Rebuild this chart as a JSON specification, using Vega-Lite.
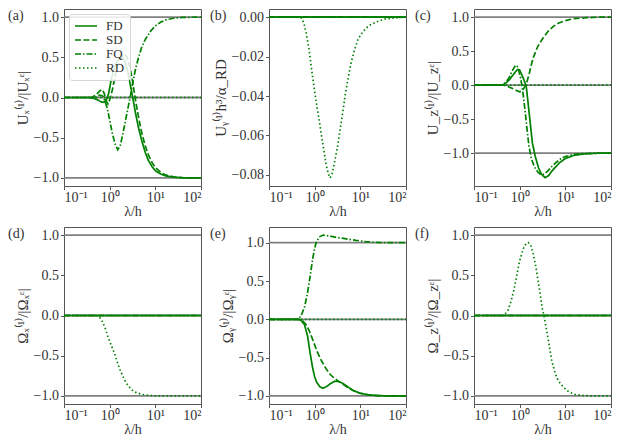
{
  "$schema": "https://vega.github.io/schema/vega-lite/v6.json",
  "padding": {"left": 7, "top": 8, "right": 0, "bottom": 0},
  "background": "white",
  "bounds": "flush",
  "columns": 3,
  "spacing": {"row": 41, "column": 68},
  "resolve": {"scale": {"strokeDash": "independent"}, "legend": {"strokeDash": "independent"}},
  "datasets": {
    "refs": [
      {"p": "a", "y": 1}, {"p": "a", "y": 0}, {"p": "a", "y": -1},
      {"p": "b", "y": 0},
      {"p": "c", "y": 1}, {"p": "c", "y": 0}, {"p": "c", "y": -1},
      {"p": "d", "y": 1}, {"p": "d", "y": 0}, {"p": "d", "y": -1},
      {"p": "e", "y": 1}, {"p": "e", "y": 0}, {"p": "e", "y": -1},
      {"p": "f", "y": 1}, {"p": "f", "y": 0}, {"p": "f", "y": -1}
    ],
    "curves": [
      {"p":"a","s":"FD","x":0.1,"y":0},{"p":"a","s":"FD","x":0.35,"y":0},{"p":"a","s":"FD","x":0.45,"y":-0.01},{"p":"a","s":"FD","x":0.55,"y":-0.03},{"p":"a","s":"FD","x":0.65,"y":-0.055},{"p":"a","s":"FD","x":0.75,"y":-0.06},{"p":"a","s":"FD","x":0.85,"y":-0.03},{"p":"a","s":"FD","x":0.95,"y":0.05},{"p":"a","s":"FD","x":1.08,"y":0.22},{"p":"a","s":"FD","x":1.25,"y":0.36},{"p":"a","s":"FD","x":1.45,"y":0.45},{"p":"a","s":"FD","x":1.7,"y":0.5},{"p":"a","s":"FD","x":1.9,"y":0.5},{"p":"a","s":"FD","x":2.2,"y":0.44},{"p":"a","s":"FD","x":2.5,"y":0.32},{"p":"a","s":"FD","x":2.8,"y":0.17},{"p":"a","s":"FD","x":3.2,"y":0},{"p":"a","s":"FD","x":3.7,"y":-0.2},{"p":"a","s":"FD","x":4.3,"y":-0.38},{"p":"a","s":"FD","x":5,"y":-0.53},{"p":"a","s":"FD","x":6,"y":-0.68},{"p":"a","s":"FD","x":7,"y":-0.78},{"p":"a","s":"FD","x":8.5,"y":-0.86},{"p":"a","s":"FD","x":10,"y":-0.91},{"p":"a","s":"FD","x":13,"y":-0.95},{"p":"a","s":"FD","x":17,"y":-0.975},{"p":"a","s":"FD","x":25,"y":-0.99},{"p":"a","s":"FD","x":40,"y":-0.998},{"p":"a","s":"FD","x":100,"y":-1},
      {"p":"a","s":"SD","x":0.1,"y":0},{"p":"a","s":"SD","x":0.4,"y":0},{"p":"a","s":"SD","x":0.5,"y":0.03},{"p":"a","s":"SD","x":0.6,"y":0.08},{"p":"a","s":"SD","x":0.68,"y":0.1},{"p":"a","s":"SD","x":0.75,"y":0.06},{"p":"a","s":"SD","x":0.85,"y":-0.05},{"p":"a","s":"SD","x":0.92,"y":-0.08},{"p":"a","s":"SD","x":1.0,"y":-0.03},{"p":"a","s":"SD","x":1.15,"y":0.1},{"p":"a","s":"SD","x":1.3,"y":0.25},{"p":"a","s":"SD","x":1.5,"y":0.39},{"p":"a","s":"SD","x":1.8,"y":0.5},{"p":"a","s":"SD","x":2.1,"y":0.54},{"p":"a","s":"SD","x":2.4,"y":0.5},{"p":"a","s":"SD","x":2.8,"y":0.37},{"p":"a","s":"SD","x":3.2,"y":0.19},{"p":"a","s":"SD","x":3.6,"y":0},{"p":"a","s":"SD","x":4.2,"y":-0.22},{"p":"a","s":"SD","x":5,"y":-0.43},{"p":"a","s":"SD","x":6,"y":-0.6},{"p":"a","s":"SD","x":7,"y":-0.71},{"p":"a","s":"SD","x":8.5,"y":-0.81},{"p":"a","s":"SD","x":10,"y":-0.87},{"p":"a","s":"SD","x":13,"y":-0.93},{"p":"a","s":"SD","x":17,"y":-0.965},{"p":"a","s":"SD","x":25,"y":-0.985},{"p":"a","s":"SD","x":40,"y":-0.997},{"p":"a","s":"SD","x":100,"y":-1},
      {"p":"a","s":"FQ","x":0.1,"y":0},{"p":"a","s":"FQ","x":0.4,"y":0},{"p":"a","s":"FQ","x":0.5,"y":0.01},{"p":"a","s":"FQ","x":0.6,"y":0.03},{"p":"a","s":"FQ","x":0.7,"y":0.02},{"p":"a","s":"FQ","x":0.8,"y":-0.05},{"p":"a","s":"FQ","x":0.9,"y":-0.15},{"p":"a","s":"FQ","x":1.0,"y":-0.28},{"p":"a","s":"FQ","x":1.15,"y":-0.45},{"p":"a","s":"FQ","x":1.3,"y":-0.57},{"p":"a","s":"FQ","x":1.5,"y":-0.65},{"p":"a","s":"FQ","x":1.7,"y":-0.6},{"p":"a","s":"FQ","x":1.9,"y":-0.48},{"p":"a","s":"FQ","x":2.2,"y":-0.3},{"p":"a","s":"FQ","x":2.5,"y":-0.14},{"p":"a","s":"FQ","x":2.8,"y":0},{"p":"a","s":"FQ","x":3.2,"y":0.18},{"p":"a","s":"FQ","x":3.7,"y":0.36},{"p":"a","s":"FQ","x":4.3,"y":0.5},{"p":"a","s":"FQ","x":5,"y":0.62},{"p":"a","s":"FQ","x":6,"y":0.72},{"p":"a","s":"FQ","x":8,"y":0.83},{"p":"a","s":"FQ","x":10,"y":0.89},{"p":"a","s":"FQ","x":13,"y":0.935},{"p":"a","s":"FQ","x":17,"y":0.965},{"p":"a","s":"FQ","x":25,"y":0.985},{"p":"a","s":"FQ","x":40,"y":0.995},{"p":"a","s":"FQ","x":100,"y":1},
      {"p":"a","s":"RD","x":0.1,"y":0},{"p":"a","s":"RD","x":100,"y":0},
      {"p":"b","s":"FD","x":0.1,"y":0},{"p":"b","s":"FD","x":100,"y":0},
      {"p":"b","s":"SD","x":0.1,"y":0},{"p":"b","s":"SD","x":100,"y":0},
      {"p":"b","s":"FQ","x":0.1,"y":0},{"p":"b","s":"FQ","x":100,"y":0},
      {"p":"b","s":"RD","x":0.1,"y":0},{"p":"b","s":"RD","x":0.5,"y":0},{"p":"b","s":"RD","x":0.58,"y":-0.003},{"p":"b","s":"RD","x":0.65,"y":-0.008},{"p":"b","s":"RD","x":0.75,"y":-0.016},{"p":"b","s":"RD","x":0.84,"y":-0.025},{"p":"b","s":"RD","x":0.95,"y":-0.034},{"p":"b","s":"RD","x":1.08,"y":-0.043},{"p":"b","s":"RD","x":1.25,"y":-0.052},{"p":"b","s":"RD","x":1.39,"y":-0.059},{"p":"b","s":"RD","x":1.6,"y":-0.068},{"p":"b","s":"RD","x":1.79,"y":-0.075},{"p":"b","s":"RD","x":2.0,"y":-0.0795},{"p":"b","s":"RD","x":2.18,"y":-0.0815},{"p":"b","s":"RD","x":2.4,"y":-0.0795},{"p":"b","s":"RD","x":2.7,"y":-0.074},{"p":"b","s":"RD","x":3.2,"y":-0.065},{"p":"b","s":"RD","x":3.6,"y":-0.057},{"p":"b","s":"RD","x":4.14,"y":-0.048},{"p":"b","s":"RD","x":4.7,"y":-0.039},{"p":"b","s":"RD","x":5.3,"y":-0.032},{"p":"b","s":"RD","x":6.3,"y":-0.023},{"p":"b","s":"RD","x":7.4,"y":-0.0168},{"p":"b","s":"RD","x":9,"y":-0.011},{"p":"b","s":"RD","x":11.3,"y":-0.0075},{"p":"b","s":"RD","x":15,"y":-0.0045},{"p":"b","s":"RD","x":22,"y":-0.0025},{"p":"b","s":"RD","x":35,"y":-0.001},{"p":"b","s":"RD","x":60,"y":-0.0003},{"p":"b","s":"RD","x":100,"y":0},
      {"p":"c","s":"FD","x":0.1,"y":0},{"p":"c","s":"FD","x":0.42,"y":0},{"p":"c","s":"FD","x":0.5,"y":0.03},{"p":"c","s":"FD","x":0.6,"y":0.08},{"p":"c","s":"FD","x":0.7,"y":0.14},{"p":"c","s":"FD","x":0.8,"y":0.19},{"p":"c","s":"FD","x":0.9,"y":0.23},{"p":"c","s":"FD","x":1.0,"y":0.22},{"p":"c","s":"FD","x":1.1,"y":0.16},{"p":"c","s":"FD","x":1.2,"y":0.1},{"p":"c","s":"FD","x":1.3,"y":0.04},{"p":"c","s":"FD","x":1.4,"y":-0.03},{"p":"c","s":"FD","x":1.55,"y":-0.3},{"p":"c","s":"FD","x":1.7,"y":-0.55},{"p":"c","s":"FD","x":1.9,"y":-0.85},{"p":"c","s":"FD","x":2.2,"y":-1.05},{"p":"c","s":"FD","x":2.6,"y":-1.22},{"p":"c","s":"FD","x":3.0,"y":-1.31},{"p":"c","s":"FD","x":3.6,"y":-1.36},{"p":"c","s":"FD","x":4.3,"y":-1.33},{"p":"c","s":"FD","x":5,"y":-1.27},{"p":"c","s":"FD","x":6,"y":-1.21},{"p":"c","s":"FD","x":7.5,"y":-1.14},{"p":"c","s":"FD","x":10,"y":-1.08},{"p":"c","s":"FD","x":15,"y":-1.035},{"p":"c","s":"FD","x":25,"y":-1.012},{"p":"c","s":"FD","x":50,"y":-1.002},{"p":"c","s":"FD","x":100,"y":-1},
      {"p":"c","s":"SD","x":0.1,"y":0},{"p":"c","s":"SD","x":0.45,"y":0},{"p":"c","s":"SD","x":0.55,"y":-0.02},{"p":"c","s":"SD","x":0.7,"y":-0.05},{"p":"c","s":"SD","x":0.85,"y":-0.08},{"p":"c","s":"SD","x":1.0,"y":-0.1},{"p":"c","s":"SD","x":1.1,"y":-0.09},{"p":"c","s":"SD","x":1.2,"y":-0.06},{"p":"c","s":"SD","x":1.3,"y":-0.02},{"p":"c","s":"SD","x":1.4,"y":0.02},{"p":"c","s":"SD","x":1.6,"y":0.15},{"p":"c","s":"SD","x":1.8,"y":0.3},{"p":"c","s":"SD","x":2.0,"y":0.41},{"p":"c","s":"SD","x":2.5,"y":0.57},{"p":"c","s":"SD","x":3.3,"y":0.7},{"p":"c","s":"SD","x":4.2,"y":0.79},{"p":"c","s":"SD","x":5.4,"y":0.86},{"p":"c","s":"SD","x":7,"y":0.91},{"p":"c","s":"SD","x":10.5,"y":0.95},{"p":"c","s":"SD","x":15,"y":0.975},{"p":"c","s":"SD","x":29,"y":0.99},{"p":"c","s":"SD","x":50,"y":0.997},{"p":"c","s":"SD","x":100,"y":1},
      {"p":"c","s":"FQ","x":0.1,"y":0},{"p":"c","s":"FQ","x":0.42,"y":0},{"p":"c","s":"FQ","x":0.5,"y":0.04},{"p":"c","s":"FQ","x":0.6,"y":0.12},{"p":"c","s":"FQ","x":0.7,"y":0.22},{"p":"c","s":"FQ","x":0.8,"y":0.28},{"p":"c","s":"FQ","x":0.87,"y":0.29},{"p":"c","s":"FQ","x":0.95,"y":0.22},{"p":"c","s":"FQ","x":1.05,"y":0.1},{"p":"c","s":"FQ","x":1.15,"y":-0.05},{"p":"c","s":"FQ","x":1.3,"y":-0.35},{"p":"c","s":"FQ","x":1.45,"y":-0.65},{"p":"c","s":"FQ","x":1.6,"y":-0.9},{"p":"c","s":"FQ","x":1.8,"y":-1.08},{"p":"c","s":"FQ","x":2.1,"y":-1.2},{"p":"c","s":"FQ","x":2.5,"y":-1.28},{"p":"c","s":"FQ","x":3.0,"y":-1.32},{"p":"c","s":"FQ","x":3.6,"y":-1.3},{"p":"c","s":"FQ","x":4.3,"y":-1.25},{"p":"c","s":"FQ","x":5,"y":-1.2},{"p":"c","s":"FQ","x":6.5,"y":-1.13},{"p":"c","s":"FQ","x":8,"y":-1.08},{"p":"c","s":"FQ","x":10,"y":-1.05},{"p":"c","s":"FQ","x":15,"y":-1.02},{"p":"c","s":"FQ","x":25,"y":-1.006},{"p":"c","s":"FQ","x":50,"y":-1},{"p":"c","s":"FQ","x":100,"y":-1},
      {"p":"c","s":"RD","x":0.1,"y":0},{"p":"c","s":"RD","x":100,"y":0},
      {"p":"d","s":"FD","x":0.1,"y":0},{"p":"d","s":"FD","x":100,"y":0},
      {"p":"d","s":"SD","x":0.1,"y":0},{"p":"d","s":"SD","x":100,"y":0},
      {"p":"d","s":"FQ","x":0.1,"y":0},{"p":"d","s":"FQ","x":100,"y":0},
      {"p":"d","s":"RD","x":0.1,"y":0},{"p":"d","s":"RD","x":0.5,"y":0},{"p":"d","s":"RD","x":0.6,"y":-0.02},{"p":"d","s":"RD","x":0.7,"y":-0.08},{"p":"d","s":"RD","x":0.8,"y":-0.16},{"p":"d","s":"RD","x":0.9,"y":-0.25},{"p":"d","s":"RD","x":1.0,"y":-0.32},{"p":"d","s":"RD","x":1.27,"y":-0.47},{"p":"d","s":"RD","x":1.64,"y":-0.66},{"p":"d","s":"RD","x":2.0,"y":-0.77},{"p":"d","s":"RD","x":2.3,"y":-0.84},{"p":"d","s":"RD","x":3.0,"y":-0.92},{"p":"d","s":"RD","x":3.5,"y":-0.95},{"p":"d","s":"RD","x":5,"y":-0.98},{"p":"d","s":"RD","x":7,"y":-0.993},{"p":"d","s":"RD","x":10,"y":-0.998},{"p":"d","s":"RD","x":100,"y":-1},
      {"p":"e","s":"FD","x":0.1,"y":0},{"p":"e","s":"FD","x":0.42,"y":0},{"p":"e","s":"FD","x":0.5,"y":-0.01},{"p":"e","s":"FD","x":0.6,"y":-0.07},{"p":"e","s":"FD","x":0.7,"y":-0.22},{"p":"e","s":"FD","x":0.8,"y":-0.45},{"p":"e","s":"FD","x":0.9,"y":-0.63},{"p":"e","s":"FD","x":1.0,"y":-0.75},{"p":"e","s":"FD","x":1.1,"y":-0.82},{"p":"e","s":"FD","x":1.3,"y":-0.88},{"p":"e","s":"FD","x":1.5,"y":-0.9},{"p":"e","s":"FD","x":1.8,"y":-0.88},{"p":"e","s":"FD","x":2.2,"y":-0.84},{"p":"e","s":"FD","x":2.7,"y":-0.81},{"p":"e","s":"FD","x":3.2,"y":-0.81},{"p":"e","s":"FD","x":4,"y":-0.83},{"p":"e","s":"FD","x":5,"y":-0.87},{"p":"e","s":"FD","x":7,"y":-0.93},{"p":"e","s":"FD","x":10,"y":-0.965},{"p":"e","s":"FD","x":15,"y":-0.985},{"p":"e","s":"FD","x":25,"y":-0.996},{"p":"e","s":"FD","x":50,"y":-1},{"p":"e","s":"FD","x":100,"y":-1},
      {"p":"e","s":"SD","x":0.1,"y":0},{"p":"e","s":"SD","x":0.45,"y":0},{"p":"e","s":"SD","x":0.55,"y":-0.02},{"p":"e","s":"SD","x":0.65,"y":-0.07},{"p":"e","s":"SD","x":0.75,"y":-0.14},{"p":"e","s":"SD","x":0.9,"y":-0.26},{"p":"e","s":"SD","x":1.1,"y":-0.4},{"p":"e","s":"SD","x":1.3,"y":-0.5},{"p":"e","s":"SD","x":1.5,"y":-0.57},{"p":"e","s":"SD","x":1.8,"y":-0.65},{"p":"e","s":"SD","x":2.2,"y":-0.72},{"p":"e","s":"SD","x":2.7,"y":-0.77},{"p":"e","s":"SD","x":3.2,"y":-0.8},{"p":"e","s":"SD","x":4,"y":-0.84},{"p":"e","s":"SD","x":5,"y":-0.88},{"p":"e","s":"SD","x":7,"y":-0.93},{"p":"e","s":"SD","x":10,"y":-0.965},{"p":"e","s":"SD","x":15,"y":-0.985},{"p":"e","s":"SD","x":25,"y":-0.996},{"p":"e","s":"SD","x":50,"y":-1},{"p":"e","s":"SD","x":100,"y":-1},
      {"p":"e","s":"FQ","x":0.1,"y":0},{"p":"e","s":"FQ","x":0.42,"y":0},{"p":"e","s":"FQ","x":0.5,"y":0.04},{"p":"e","s":"FQ","x":0.6,"y":0.16},{"p":"e","s":"FQ","x":0.7,"y":0.35},{"p":"e","s":"FQ","x":0.8,"y":0.57},{"p":"e","s":"FQ","x":0.9,"y":0.78},{"p":"e","s":"FQ","x":1.0,"y":0.93},{"p":"e","s":"FQ","x":1.1,"y":1.02},{"p":"e","s":"FQ","x":1.3,"y":1.08},{"p":"e","s":"FQ","x":1.55,"y":1.1},{"p":"e","s":"FQ","x":2,"y":1.09},{"p":"e","s":"FQ","x":3,"y":1.07},{"p":"e","s":"FQ","x":5,"y":1.05},{"p":"e","s":"FQ","x":8,"y":1.03},{"p":"e","s":"FQ","x":13,"y":1.015},{"p":"e","s":"FQ","x":20,"y":1.005},{"p":"e","s":"FQ","x":40,"y":1},{"p":"e","s":"FQ","x":100,"y":1},
      {"p":"e","s":"RD","x":0.1,"y":0},{"p":"e","s":"RD","x":100,"y":0},
      {"p":"f","s":"FD","x":0.1,"y":0},{"p":"f","s":"FD","x":100,"y":0},
      {"p":"f","s":"SD","x":0.1,"y":0},{"p":"f","s":"SD","x":100,"y":0},
      {"p":"f","s":"FQ","x":0.1,"y":0},{"p":"f","s":"FQ","x":100,"y":0},
      {"p":"f","s":"RD","x":0.1,"y":0},{"p":"f","s":"RD","x":0.45,"y":0},{"p":"f","s":"RD","x":0.55,"y":0.06},{"p":"f","s":"RD","x":0.65,"y":0.18},{"p":"f","s":"RD","x":0.75,"y":0.32},{"p":"f","s":"RD","x":0.85,"y":0.48},{"p":"f","s":"RD","x":1.0,"y":0.68},{"p":"f","s":"RD","x":1.2,"y":0.83},{"p":"f","s":"RD","x":1.4,"y":0.9},{"p":"f","s":"RD","x":1.55,"y":0.905},{"p":"f","s":"RD","x":1.75,"y":0.87},{"p":"f","s":"RD","x":2.0,"y":0.76},{"p":"f","s":"RD","x":2.3,"y":0.58},{"p":"f","s":"RD","x":2.7,"y":0.33},{"p":"f","s":"RD","x":3.1,"y":0.1},{"p":"f","s":"RD","x":3.4,"y":0},{"p":"f","s":"RD","x":4,"y":-0.22},{"p":"f","s":"RD","x":5,"y":-0.55},{"p":"f","s":"RD","x":6,"y":-0.72},{"p":"f","s":"RD","x":7,"y":-0.81},{"p":"f","s":"RD","x":9,"y":-0.89},{"p":"f","s":"RD","x":12,"y":-0.95},{"p":"f","s":"RD","x":16,"y":-0.98},{"p":"f","s":"RD","x":22,"y":-0.993},{"p":"f","s":"RD","x":40,"y":-1},{"p":"f","s":"RD","x":100,"y":-1}
    ]
  },
  "concat": [
    {
      "width": 137, "height": 177,
      "title": {"text": "(a)", "dx": -56},
      "layer": [
        {"data": {"name": "refs"}, "transform": [{"filter": "datum.p == 'a'"}],
         "mark": {"type": "rule", "color": "#808080", "strokeWidth": 1.8},
         "encoding": {"y": {"field": "y", "type": "quantitative", "scale": {"domain": [-1.1, 1.1], "nice": false, "zero": false}, "axis": {"values": [-1, -0.5, 0, 0.5, 1], "format": ".1f", "title": "Uₓ⁽¹⁾/|Uₓᵋ|"}}}},
        {"data": {"name": "curves"}, "transform": [{"filter": "datum.p == 'a'"}],
         "mark": {"type": "line", "color": "#008000", "strokeWidth": 1.7},
         "encoding": {
           "x": {"field": "x", "type": "quantitative", "scale": {"type": "log", "domain": [0.1, 100]}, "axis": {"values": [0.1, 1, 10, 100], "labelExpr": "datum.value < 0.5 ? '10⁻¹' : datum.value < 5 ? '10⁰' : datum.value < 50 ? '10¹' : '10²'", "title": "λ/h"}},
           "y": {"field": "y", "type": "quantitative", "scale": {"domain": [-1.1, 1.1], "nice": false, "zero": false}, "axis": {"values": [-1, -0.5, 0, 0.5, 1], "format": ".1f", "title": "Uₓ⁽¹⁾/|Uₓᵋ|"}},
           "strokeDash": {"field": "s", "type": "nominal", "scale": {"domain": ["FD", "SD", "FQ", "RD"], "range": [[1, 0], [6, 2.5], [6, 2, 1.5, 2], [1.5, 2.5]]},
             "legend": {"orient": "top-left", "offset": 5, "title": null, "padding": 5, "strokeColor": "#d5d5d5", "fillColor": "rgba(255,255,255,0.85)", "cornerRadius": 3, "symbolType": "stroke", "symbolSize": 484, "symbolStrokeWidth": 1.7, "symbolStrokeColor": "#008000", "clipHeight": 14, "rowPadding": 0, "labelFont": "Liberation Serif", "labelFontSize": 13, "labelColor": "#333", "labelOffset": 8}}
         }}
      ]
    },
    {
      "width": 137, "height": 177,
      "title": {"text": "(b)", "dx": -59},
      "layer": [
        {"data": {"name": "refs"}, "transform": [{"filter": "datum.p == 'b'"}],
         "mark": {"type": "rule", "color": "#808080", "strokeWidth": 1.8},
         "encoding": {"y": {"field": "y", "type": "quantitative", "scale": {"domain": [-0.0856, 0.0041], "nice": false, "zero": false}, "axis": {"values": [-0.08, -0.06, -0.04, -0.02, 0], "format": ".2f", "title": "Uᵧ⁽¹⁾h³/α_RD"}}}},
        {"data": {"name": "curves"}, "transform": [{"filter": "datum.p == 'b'"}],
         "mark": {"type": "line", "color": "#008000", "strokeWidth": 1.7},
         "encoding": {
           "x": {"field": "x", "type": "quantitative", "scale": {"type": "log", "domain": [0.1, 100]}, "axis": {"values": [0.1, 1, 10, 100], "labelExpr": "datum.value < 0.5 ? '10⁻¹' : datum.value < 5 ? '10⁰' : datum.value < 50 ? '10¹' : '10²'", "title": "λ/h"}},
           "y": {"field": "y", "type": "quantitative", "scale": {"domain": [-0.0856, 0.0041], "nice": false, "zero": false}, "axis": {"values": [-0.08, -0.06, -0.04, -0.02, 0], "format": ".2f", "title": "Uᵧ⁽¹⁾h³/α_RD"}},
           "strokeDash": {"field": "s", "type": "nominal", "scale": {"domain": ["FD", "SD", "FQ", "RD"], "range": [[1, 0], [6, 2.5], [6, 2, 1.5, 2], [1.5, 2.5]]}, "legend": null}
         }}
      ]
    },
    {
      "width": 137, "height": 177,
      "title": {"text": "(c)", "dx": -59},
      "layer": [
        {"data": {"name": "refs"}, "transform": [{"filter": "datum.p == 'c'"}],
         "mark": {"type": "rule", "color": "#808080", "strokeWidth": 1.8},
         "encoding": {"y": {"field": "y", "type": "quantitative", "scale": {"domain": [-1.483, 1.118], "nice": false, "zero": false}, "axis": {"values": [-1, -0.5, 0, 0.5, 1], "format": ".1f", "title": "U_z⁽¹⁾/|U_zᵋ|"}}}},
        {"data": {"name": "curves"}, "transform": [{"filter": "datum.p == 'c'"}],
         "mark": {"type": "line", "color": "#008000", "strokeWidth": 1.7},
         "encoding": {
           "x": {"field": "x", "type": "quantitative", "scale": {"type": "log", "domain": [0.1, 100]}, "axis": {"values": [0.1, 1, 10, 100], "labelExpr": "datum.value < 0.5 ? '10⁻¹' : datum.value < 5 ? '10⁰' : datum.value < 50 ? '10¹' : '10²'", "title": "λ/h"}},
           "y": {"field": "y", "type": "quantitative", "scale": {"domain": [-1.483, 1.118], "nice": false, "zero": false}, "axis": {"values": [-1, -0.5, 0, 0.5, 1], "format": ".1f", "title": "U_z⁽¹⁾/|U_zᵋ|"}},
           "strokeDash": {"field": "s", "type": "nominal", "scale": {"domain": ["FD", "SD", "FQ", "RD"], "range": [[1, 0], [6, 2.5], [6, 2, 1.5, 2], [1.5, 2.5]]}, "legend": null}
         }}
      ]
    },
    {
      "width": 137, "height": 177,
      "title": {"text": "(d)", "dx": -56},
      "layer": [
        {"data": {"name": "refs"}, "transform": [{"filter": "datum.p == 'd'"}],
         "mark": {"type": "rule", "color": "#808080", "strokeWidth": 1.8},
         "encoding": {"y": {"field": "y", "type": "quantitative", "scale": {"domain": [-1.1, 1.1], "nice": false, "zero": false}, "axis": {"values": [-1, -0.5, 0, 0.5, 1], "format": ".1f", "title": "Ωₓ⁽¹⁾/|Ωₓᵋ|"}}}},
        {"data": {"name": "curves"}, "transform": [{"filter": "datum.p == 'd'"}],
         "mark": {"type": "line", "color": "#008000", "strokeWidth": 1.7},
         "encoding": {
           "x": {"field": "x", "type": "quantitative", "scale": {"type": "log", "domain": [0.1, 100]}, "axis": {"values": [0.1, 1, 10, 100], "labelExpr": "datum.value < 0.5 ? '10⁻¹' : datum.value < 5 ? '10⁰' : datum.value < 50 ? '10¹' : '10²'", "title": "λ/h"}},
           "y": {"field": "y", "type": "quantitative", "scale": {"domain": [-1.1, 1.1], "nice": false, "zero": false}, "axis": {"values": [-1, -0.5, 0, 0.5, 1], "format": ".1f", "title": "Ωₓ⁽¹⁾/|Ωₓᵋ|"}},
           "strokeDash": {"field": "s", "type": "nominal", "scale": {"domain": ["FD", "SD", "FQ", "RD"], "range": [[1, 0], [6, 2.5], [6, 2, 1.5, 2], [1.5, 2.5]]}, "legend": null}
         }}
      ]
    },
    {
      "width": 137, "height": 177,
      "title": {"text": "(e)", "dx": -59},
      "layer": [
        {"data": {"name": "refs"}, "transform": [{"filter": "datum.p == 'e'"}],
         "mark": {"type": "rule", "color": "#808080", "strokeWidth": 1.8},
         "encoding": {"y": {"field": "y", "type": "quantitative", "scale": {"domain": [-1.105, 1.205], "nice": false, "zero": false}, "axis": {"values": [-1, -0.5, 0, 0.5, 1], "format": ".1f", "title": "Ωᵧ⁽¹⁾/|Ωᵧᵋ|"}}}},
        {"data": {"name": "curves"}, "transform": [{"filter": "datum.p == 'e'"}],
         "mark": {"type": "line", "color": "#008000", "strokeWidth": 1.7},
         "encoding": {
           "x": {"field": "x", "type": "quantitative", "scale": {"type": "log", "domain": [0.1, 100]}, "axis": {"values": [0.1, 1, 10, 100], "labelExpr": "datum.value < 0.5 ? '10⁻¹' : datum.value < 5 ? '10⁰' : datum.value < 50 ? '10¹' : '10²'", "title": "λ/h"}},
           "y": {"field": "y", "type": "quantitative", "scale": {"domain": [-1.105, 1.205], "nice": false, "zero": false}, "axis": {"values": [-1, -0.5, 0, 0.5, 1], "format": ".1f", "title": "Ωᵧ⁽¹⁾/|Ωᵧᵋ|"}},
           "strokeDash": {"field": "s", "type": "nominal", "scale": {"domain": ["FD", "SD", "FQ", "RD"], "range": [[1, 0], [6, 2.5], [6, 2, 1.5, 2], [1.5, 2.5]]}, "legend": null}
         }}
      ]
    },
    {
      "width": 137, "height": 177,
      "title": {"text": "(f)", "dx": -59},
      "layer": [
        {"data": {"name": "refs"}, "transform": [{"filter": "datum.p == 'f'"}],
         "mark": {"type": "rule", "color": "#808080", "strokeWidth": 1.8},
         "encoding": {"y": {"field": "y", "type": "quantitative", "scale": {"domain": [-1.1, 1.1], "nice": false, "zero": false}, "axis": {"values": [-1, -0.5, 0, 0.5, 1], "format": ".1f", "title": "Ω_z⁽¹⁾/|Ω_zᵋ|"}}}},
        {"data": {"name": "curves"}, "transform": [{"filter": "datum.p == 'f'"}],
         "mark": {"type": "line", "color": "#008000", "strokeWidth": 1.7},
         "encoding": {
           "x": {"field": "x", "type": "quantitative", "scale": {"type": "log", "domain": [0.1, 100]}, "axis": {"values": [0.1, 1, 10, 100], "labelExpr": "datum.value < 0.5 ? '10⁻¹' : datum.value < 5 ? '10⁰' : datum.value < 50 ? '10¹' : '10²'", "title": "λ/h"}},
           "y": {"field": "y", "type": "quantitative", "scale": {"domain": [-1.1, 1.1], "nice": false, "zero": false}, "axis": {"values": [-1, -0.5, 0, 0.5, 1], "format": ".1f", "title": "Ω_z⁽¹⁾/|Ω_zᵋ|"}},
           "strokeDash": {"field": "s", "type": "nominal", "scale": {"domain": ["FD", "SD", "FQ", "RD"], "range": [[1, 0], [6, 2.5], [6, 2, 1.5, 2], [1.5, 2.5]]}, "legend": null}
         }}
      ]
    }
  ],
  "config": {
    "view": {"stroke": "#555555", "strokeWidth": 1},
    "axis": {"domain": false, "grid": false, "labelFont": "Liberation Serif", "labelFontSize": 14, "labelColor": "#333333", "tickColor": "#555555", "tickSize": 3.5, "labelPadding": 2, "titleFont": "Liberation Serif", "titleFontSize": 15, "titleFontWeight": "normal", "titleColor": "#333333", "titlePadding": 3},
    "axisX": {"labelPadding": 1, "titlePadding": 0, "titleFontSize": 14},
    "title": {"anchor": "start", "frame": "group", "offset": -14, "font": "Liberation Serif", "fontSize": 14, "fontWeight": "normal", "color": "#333333"}
  }
}
